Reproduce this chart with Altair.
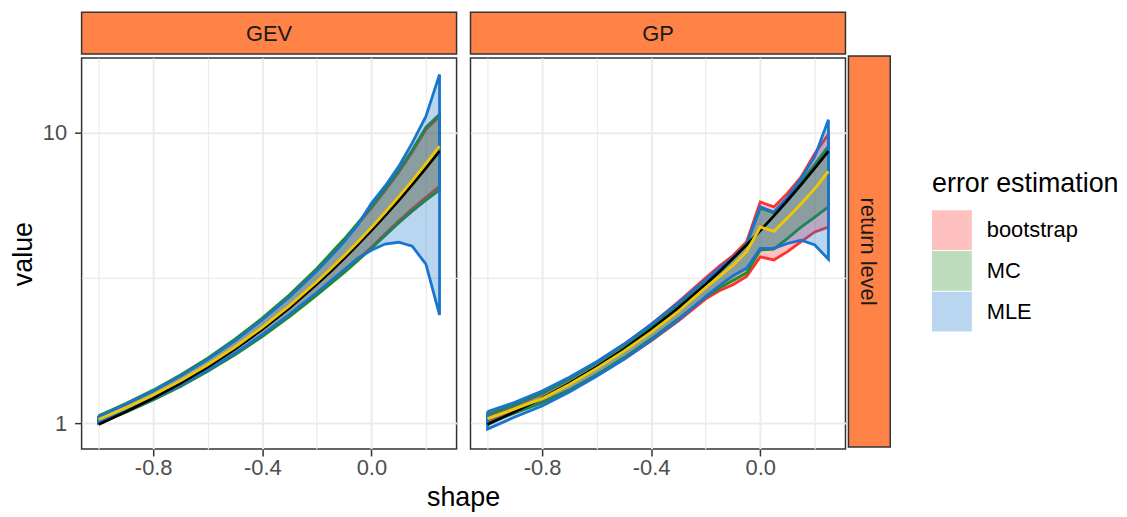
import altair as alt
import pandas as pd

# ---------------- data ----------------
shape = [-1.0, -0.9, -0.8, -0.7, -0.6, -0.5, -0.4, -0.3, -0.2, -0.15,
         -0.1, -0.05, 0.0, 0.05, 0.1, 0.15, 0.2, 0.25]

true_level = [0.99, 1.094, 1.219, 1.372, 1.562, 1.80, 2.104, 2.496, 3.01, 3.325,
              3.69, 4.114, 4.605, 5.179, 5.849, 6.635, 7.559, 8.649]

# GEV
gev_estimate = [1.03, 1.13, 1.25, 1.40, 1.59, 1.83, 2.14, 2.54, 3.07, 3.40,
                3.77, 4.21, 4.72, 5.32, 6.02, 6.85, 7.83, 9.0]
gev_boot_lower = [1.005, 1.097, 1.208, 1.344, 1.517, 1.73, 2.0, 2.342, 2.78, 3.04,
                  3.325, 3.66, 4.04, 4.48, 4.97, 5.48, 6.0, 6.55]
gev_boot_upper = [1.056, 1.164, 1.293, 1.458, 1.666, 1.935, 2.288, 2.752, 3.39, 3.80,
                  4.27, 4.84, 5.51, 6.32, 7.31, 8.6, 10.28, 11.4]
gev_mc_lower = [1.0, 1.092, 1.202, 1.337, 1.509, 1.720, 1.989, 2.328, 2.761, 3.017,
                3.298, 3.626, 4.0, 4.426, 4.894, 5.377, 5.870, 6.35]
gev_mc_upper = [1.061, 1.170, 1.300, 1.466, 1.676, 1.947, 2.303, 2.771, 3.414, 3.832,
                4.309, 4.888, 5.570, 6.395, 7.405, 8.727, 10.45, 11.6]
gev_mle_lower = [1.007, 1.099, 1.211, 1.349, 1.524, 1.741, 2.017, 2.369, 2.819, 3.088,
                 3.375, 3.703, 3.94, 4.14, 4.2, 4.07, 3.53, 2.36]
gev_mle_upper = [1.054, 1.162, 1.290, 1.453, 1.658, 1.923, 2.271, 2.723, 3.343, 3.743,
                 4.211, 4.82, 5.72, 6.55, 7.65, 9.24, 11.4, 15.9]

# GP
gp_estimate = [1.037, 1.12, 1.215, 1.36, 1.545, 1.77, 2.06, 2.43, 2.93, 3.2,
               3.5, 3.9, 4.74, 4.58, 5.1, 5.7, 6.43, 7.37]
gp_boot_lower = [1.01, 1.09, 1.18, 1.30, 1.46, 1.66, 1.92, 2.25, 2.68, 2.86,
                 3.0, 3.2, 3.74, 3.65, 3.9, 4.22, 4.56, 4.74]
gp_boot_upper = [1.06, 1.15, 1.26, 1.42, 1.62, 1.87, 2.19, 2.62, 3.17, 3.48,
                 3.78, 4.22, 5.78, 5.56, 6.2, 7.05, 8.5, 9.9]
gp_mc_lower = [1.0, 1.085, 1.175, 1.30, 1.47, 1.68, 1.95, 2.29, 2.72, 2.92,
               3.1, 3.29, 3.95, 3.98, 4.33, 4.74, 5.13, 5.56]
gp_mc_upper = [1.073, 1.16, 1.27, 1.42, 1.61, 1.85, 2.16, 2.57, 3.1, 3.4,
               3.72, 4.15, 5.5, 5.3, 5.95, 6.75, 7.8, 9.0]
gp_mle_lower = [0.954, 1.05, 1.146, 1.28, 1.45, 1.66, 1.93, 2.27, 2.73, 2.98,
                3.22, 3.42, 4.0, 4.0, 4.16, 4.27, 4.11, 3.67]
gp_mle_upper = [1.097, 1.18, 1.29, 1.44, 1.63, 1.87, 2.19, 2.6, 3.12, 3.42,
                3.72, 4.12, 5.56, 5.34, 6.0, 6.97, 8.3, 11.1]

models = ["GEV", "GP"]
methods = ["bootstrap", "MC", "MLE"]
method_colors = ["#FF3030", "#228B22", "#1874CD"]
strip_row_label = "return level"
legend_title = "error estimation"
x_title = "shape"
y_title = "value"

bands = {
    ("GEV", "bootstrap"): (gev_boot_lower, gev_boot_upper),
    ("GEV", "MC"): (gev_mc_lower, gev_mc_upper),
    ("GEV", "MLE"): (gev_mle_lower, gev_mle_upper),
    ("GP", "bootstrap"): (gp_boot_lower, gp_boot_upper),
    ("GP", "MC"): (gp_mc_lower, gp_mc_upper),
    ("GP", "MLE"): (gp_mle_lower, gp_mle_upper),
}
estimates = {"GEV": gev_estimate, "GP": gp_estimate}

# ---------------- tables ----------------
band_rows, poly_rows, line_rows = [], [], []
for (m, meth), (lo, up) in bands.items():
    for s, a, b in zip(shape, lo, up):
        band_rows.append(dict(model=m, method=meth, shape=s, lower=a, upper=b))
    pts = list(zip(shape, up)) + list(zip(shape[::-1], lo[::-1])) + [(shape[0], up[0])]
    for i, (s, v) in enumerate(pts):
        poly_rows.append(dict(model=m, method=meth, idx=i, shape=s, value=v))
for m in models:
    for s, v in zip(shape, true_level):
        line_rows.append(dict(model=m, kind="true", shape=s, value=v))
    for s, v in zip(shape, estimates[m]):
        line_rows.append(dict(model=m, kind="estimate", shape=s, value=v))
band_df = pd.DataFrame(band_rows)
poly_df = pd.DataFrame(poly_rows)
line_df = pd.DataFrame(line_rows)

# ---------------- styling ----------------
FONT = "Liberation Sans"
PW, PH, SH = 377, 393, 42
STRIP_FILL = "#FF8247"
BORDER = "#333333"
GRID = "#EBEBEB"
TXT = 22
TTL = 27
LW = 2.8

xscale = alt.Scale(domain=[-1.0625, 0.3125], nice=False, zero=False)
yscale = alt.Scale(type="log", domain=[0.815, 18.1], nice=False)
fill_scale = alt.Scale(domain=methods, range=method_colors)

x_major = "datum.value == -0.8 || datum.value == -0.4 || datum.value == 0"
y_major = "datum.value == 1 || datum.value == 10"


def x_axis():
    return alt.Axis(
        values=[-1.0, -0.8, -0.6, -0.4, -0.2, 0.0, 0.2],
        labelExpr="datum.value == -0.8 ? '-0.8' : datum.value == -0.4 ? '-0.4' : datum.value == 0 ? '0.0' : ''",
        tickOpacity={"condition": {"test": x_major, "value": 1}, "value": 0},
        gridWidth={"condition": {"test": x_major, "value": 2}, "value": 1.2},
        gridColor=GRID, tickColor=BORDER, tickSize=7, tickWidth=1.5, domain=False,
        labelFont=FONT, labelFontSize=TXT, labelColor="#4D4D4D", labelPadding=2,
        labelOverlap=False, title=None,
    )


def y_axis(with_labels):
    kw = dict(
        values=[1, 3.1623, 10],
        gridWidth={"condition": {"test": y_major, "value": 2}, "value": 1.2},
        gridColor=GRID, domain=False,
    )
    if with_labels:
        kw.update(
            labelExpr="datum.value == 1 ? '1' : datum.value == 10 ? '10' : ''",
            tickOpacity={"condition": {"test": y_major, "value": 1}, "value": 0},
            tickColor=BORDER, tickSize=7, tickWidth=1.5,
            labelFont=FONT, labelFontSize=TXT, labelColor="#4D4D4D", labelPadding=8,
            title=y_title, titleFont=FONT, titleFontSize=TTL, titleFontWeight="normal",
            titleColor="black", titlePadding=5,
        )
    else:
        kw.update(labels=False, ticks=False, title=None)
    return alt.Axis(**kw)


def panel(m, first):
    X = alt.X("shape:Q", scale=xscale, axis=x_axis())
    layers = []
    for meth in methods:
        bsub = band_df[(band_df.model == m) & (band_df.method == meth)]
        psub = poly_df[(poly_df.model == m) & (poly_df.method == meth)]
        area = alt.Chart(bsub).mark_area(opacity=0.3).encode(
            x=X,
            y=alt.Y("lower:Q", scale=yscale, axis=y_axis(first)),
            y2="upper:Q",
            fill=alt.Fill("method:N", scale=fill_scale, legend=alt.Legend(
                title=legend_title, orient="none", legendX=855, legendY=160,
                symbolType="square", symbolSize=1600, symbolOpacity=0.3,
                symbolStrokeWidth=0, rowPadding=1, labelOffset=15,
                labelFont=FONT, labelFontSize=TXT, labelColor="black",
                titleFont=FONT, titleFontSize=TTL, titleFontWeight="normal",
                titleColor="black", titlePadding=12, titleLimit=400, labelLimit=300)),
        )
        outline = alt.Chart(psub).mark_line(strokeWidth=LW).encode(
            x=X,
            y=alt.Y("value:Q", scale=yscale),
            order="idx:Q",
            stroke=alt.Stroke("method:N", scale=fill_scale, legend=None),
        )
        layers += [area, outline]
    lsub = line_df[line_df.model == m]
    truth = alt.Chart(lsub[lsub.kind == "true"]).mark_line(color="black", strokeWidth=LW).encode(
        x=X, y=alt.Y("value:Q", scale=yscale))
    est = alt.Chart(lsub[lsub.kind == "estimate"]).mark_line(color="#EEC900", strokeWidth=LW).encode(
        x=X, y=alt.Y("value:Q", scale=yscale))
    layers += [truth, est]
    return alt.layer(*layers).properties(
        width=PW, height=PH,
        view=alt.ViewBackground(stroke=BORDER, strokeWidth=1.5, fill="white"))


def top_strip(label):
    d = pd.DataFrame({"label": [label]})
    rect = alt.Chart(d).mark_rect(fill=STRIP_FILL, stroke=BORDER, strokeWidth=1.5).encode(
        x=alt.value(0), x2=alt.value(PW), y=alt.value(0), y2=alt.value(SH))
    txt = alt.Chart(d).mark_text(font=FONT, fontSize=TXT, color="#1A1A1A", baseline="middle").encode(
        x=alt.value(PW / 2), y=alt.value(SH / 2 + 1), text="label:N")
    return alt.layer(rect, txt).properties(width=PW, height=SH,
                                           view=alt.ViewBackground(strokeOpacity=0))


def side_strip(label):
    d = pd.DataFrame({"label": [label]})
    top = SH + 2
    rect = alt.Chart(d).mark_rect(fill=STRIP_FILL, stroke=BORDER, strokeWidth=1.5).encode(
        x=alt.value(0), x2=alt.value(SH), y=alt.value(top), y2=alt.value(top + PH))
    txt = alt.Chart(d).mark_text(font=FONT, fontSize=TXT, color="#1A1A1A", baseline="middle",
                                 align="center", angle=90).encode(
        x=alt.value(SH / 2 - 1), y=alt.value(top + PH / 2), text="label:N")
    return alt.layer(rect, txt).properties(width=SH, height=top + PH,
                                           view=alt.ViewBackground(strokeOpacity=0))


col1 = alt.vconcat(top_strip("GEV"), panel("GEV", True), spacing=2)
col2 = alt.vconcat(top_strip("GP"), panel("GP", False), spacing=2)
right = alt.hconcat(col2, side_strip(strip_row_label), spacing=1)
chart = alt.hconcat(col1, right, spacing=12).properties(
    padding={"left": 0, "top": 2, "right": 0, "bottom": 0},
    title=alt.TitleParams(x_title, orient="bottom", anchor="middle", frame="group",
                          font=FONT, fontSize=TTL, fontWeight="normal", color="black",
                          offset=6, dx=384),
).configure(font=FONT).configure_view(stroke=BORDER)

chart.save("out.html", embed_options={"renderer": "svg", "actions": False})
